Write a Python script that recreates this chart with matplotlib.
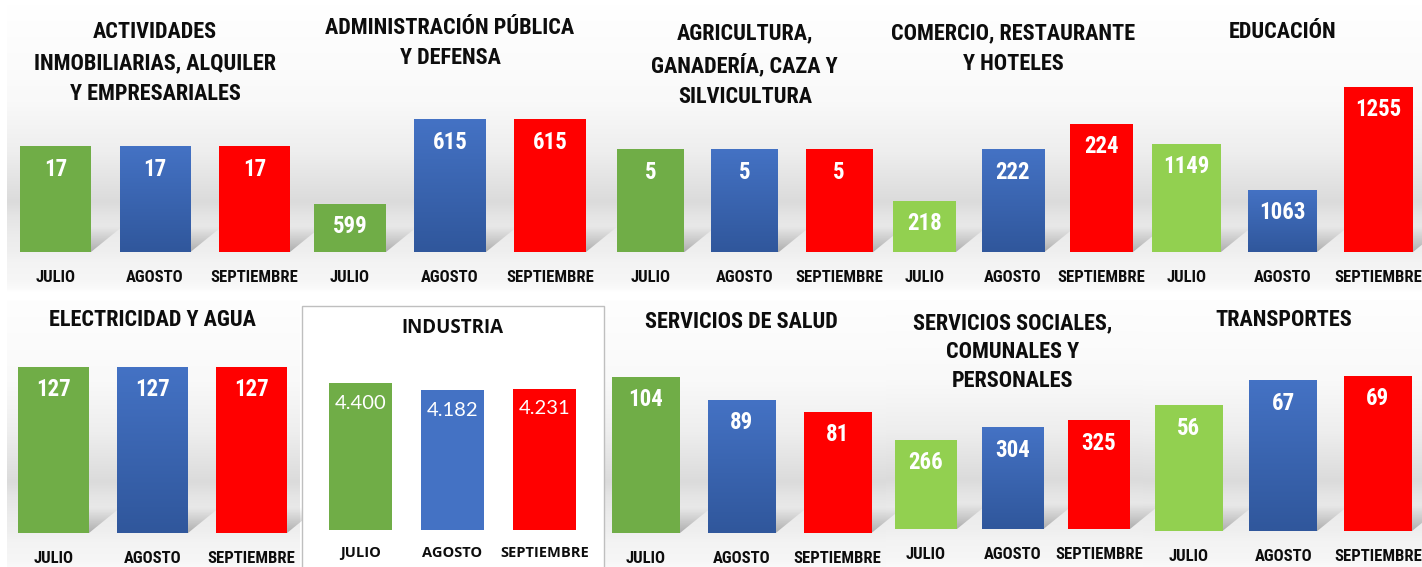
import numpy as np
import matplotlib
matplotlib.use('Agg')
import matplotlib.pyplot as plt
from matplotlib import font_manager
from matplotlib.patches import Polygon, Rectangle
from matplotlib.transforms import offset_copy

# Datos del gráfico
meses = ['JULIO', 'AGOSTO', 'SEPTIEMBRE']
sectores = ['ACTIVIDADES\nINMOBILIARIAS, ALQUILER\nY EMPRESARIALES',
            'ADMINISTRACIÓN PÚBLICA\nY DEFENSA',
            'AGRICULTURA,\nGANADERÍA, CAZA Y\nSILVICULTURA',
            'COMERCIO, RESTAURANTE\nY HOTELES',
            'EDUCACIÓN',
            'ELECTRICIDAD Y AGUA',
            'INDUSTRIA',
            'SERVICIOS DE SALUD',
            'SERVICIOS SOCIALES,\nCOMUNALES Y\nPERSONALES',
            'TRANSPORTES']
actividades = [17, 17, 17]
administracion = [599, 615, 615]
agricultura = [5, 5, 5]
comercio = [218, 222, 224]
educacion = [1149, 1063, 1255]
electricidad = [127, 127, 127]
industria = [4400, 4182, 4231]
salud = [104, 89, 81]
sociales = [266, 304, 325]
transportes = [56, 67, 69]
valores = [actividades, administracion, agricultura, comercio, educacion,
           electricidad, industria, salud, sociales, transportes]

# Colores
verde = '#70ad47'
verde_claro = '#92d050'
azul = '#4472c4'
azul_oscuro = '#30579c'
rojo = '#ff0000'

W, H = 1422, 567

# Disposición de cada panel (en pixeles):
# centro 1a barra, paso, ancho barra, base, ymin, ymax, y del título, julio verde claro
paneles = [
    (55.5, 99.5, 71, 252, 0, 38.5, 63, False),
    (350, 100, 72, 252, 589.9, 635.35, 43, False),
    (650.5, 94.3, 67, 252.5, 0, 11.65, 65, False),
    (924.5, 88.5, 63, 252, 214, 232.7, 49, True),
    (1186.5, 96, 69, 252, 947, 1394.8, 32, True),
    (53.5, 99, 71, 533, 0, 183.6, 320, False),
    (360.5, 92, 63, 530, 0, 7185, 328, False),
    (646, 95.75, 68, 533, 0, 160, 322, False),
    (926, 86.5, 62, 529, 0, 716, 352, True),
    (1188.5, 94.75, 68, 531, 0, 106.7, 320, True),
]
# Zonas con fondo degradado: x0, x1, y0, y1, base
zonas = [(7, 303, 5, 292, 252), (303, 601, 5, 292, 252), (601, 885, 5, 292, 252),
         (885, 1143, 5, 292, 252), (1143, 1422, 5, 292, 252),
         (7, 300, 300, 567, 532), (604, 886, 300, 567, 532),
         (886, 1143, 300, 567, 530), (1143, 1422, 300, 567, 531)]
ALTO_EJE = 240
INDUSTRIA = 6


def buscar_estrecha():
    # Busca una fuente condensada instalada; si no hay, usa Liberation Sans más pequeña
    for nombre, esc in [('Liberation Sans Narrow', 1.0), ('Roboto Condensed', 1.0),
                        ('Noto Sans Condensed', 1.0), ('DejaVu Sans Condensed', 0.92),
                        ('Open Sans Condensed', 1.0)]:
        try:
            font_manager.findfont(font_manager.FontProperties(family=nombre, weight='bold'),
                                  fallback_to_default=False)
            return {'fontfamily': [nombre, 'DejaVu Sans']}, esc
        except ValueError:
            pass
    for nombre in ['Noto Sans', 'DejaVu Sans', 'Roboto']:
        fp = font_manager.FontProperties(family=nombre, weight='bold', stretch='condensed')
        try:
            ruta = font_manager.findfont(fp, fallback_to_default=False)
        except ValueError:
            continue
        if 'ondensed' in ruta:
            return {'fontfamily': [nombre, 'DejaVu Sans'], 'fontstretch': 'condensed'}, 0.95
    return {'fontfamily': ['Liberation Sans', 'DejaVu Sans']}, 0.86


estrecha, esc = buscar_estrecha()
normal = ['Lato', 'DejaVu Sans']
negrita = ['Open Sans', 'DejaVu Sans']


def perfil(y, base):
    # tono de gris del fondo según la distancia a la base de las barras
    d = base - y
    dp = [-40, -36, -28, -10, 0, 15, 35, 50, 100, 150, 247]
    vp = [255, 250, 246, 243, 239, 236, 229, 219, 238, 249, 255]
    return np.interp(d, dp, vp) / 255.0


fig = plt.figure(figsize=(W / 100, H / 100), dpi=100)
fondo = fig.add_axes([0, 0, 1, 1])
fondo.axis('off')

# Fondo degradado de cada panel
for x0, x1, y0, y1, base in zonas:
    ys = np.arange(y0, y1) + 0.5
    g = perfil(ys, base)
    img = np.dstack([g, g, g]).reshape(-1, 1, 3)
    fondo.imshow(img, extent=(x0, x1, y1, y0), aspect='auto', interpolation='bilinear')

# Recuadro del panel de industria
fondo.add_patch(Rectangle((302, 306), 302, 270, facecolor='white', edgecolor='#bfbfbf', lw=1))

# Sombras en perspectiva detrás de las barras
dx, hs = 32, 26
alfa = np.linspace(0.0, 0.45, 40).reshape(-1, 1)
sombra = np.dstack([np.full_like(alfa, 0.38)] * 3 + [alfa])
for n, (c0, paso, ancho, base, lo, hi, ty, claro) in enumerate(paneles):
    if n == INDUSTRIA:
        continue
    for i in range(3):
        xl = c0 + i * paso - ancho / 2
        xr = xl + ancho
        poly = Polygon([(xl, base), (xr, base), (xr + dx, base - hs), (xl + dx, base - hs)],
                       closed=True, facecolor='none', edgecolor='none')
        fondo.add_patch(poly)
        im = fondo.imshow(sombra, extent=(xl, xr + dx, base, base - hs), aspect='auto',
                          interpolation='bilinear')
        im.set_clip_path(poly)

fondo.set_xlim(0, W)
fondo.set_ylim(H, 0)

# Paneles de barras
for n, (c0, paso, ancho, base, lo, hi, ty, claro) in enumerate(paneles):
    izq = c0 - paso / 2
    ax = fig.add_axes([izq / W, (H - base) / H, 3 * paso / W, ALTO_EJE / H])
    ax.patch.set_visible(False)
    for sp in ax.spines.values():
        sp.set_visible(False)
    datos = valores[n]
    colores = [verde_claro if claro else verde, azul, rojo]
    x = np.arange(3)
    barras = ax.bar(x, [v - lo for v in datos], width=ancho / paso, bottom=lo,
                    color=colores, zorder=2)

    # Degradado vertical de la barra azul
    if n != INDUSTRIA:
        b = barras[1]
        g = np.linspace(0, 1, 50).reshape(-1, 1)
        c1 = np.array(matplotlib.colors.to_rgb(azul))
        c2 = np.array(matplotlib.colors.to_rgb(azul_oscuro))
        img = c1 + (c2 - c1) * g[..., None]
        im = ax.imshow(img, extent=(b.get_x(), b.get_x() + b.get_width(), lo, datos[1]),
                       aspect='auto', zorder=3, interpolation='bilinear')
        im.set_clip_path(b)
    ax.set_xlim(-0.5, 2.5)
    ax.set_ylim(lo, hi)

    ax.set_yticks([])
    ax.set_xticks(x)
    if n == INDUSTRIA:
        ax.set_xticklabels(meses, fontfamily=negrita, fontweight='bold', fontsize=10.5)
        pad = 23 * 0.72
    else:
        ax.set_xticklabels(meses, fontweight='bold', fontsize=12 * esc, **estrecha)
        pad = 25.5 * 0.72
    ax.tick_params(axis='x', length=0, pad=pad, colors='#0d0d0d')
    for lab in ax.get_xticklabels():
        lab.set_va('center')

    # Etiquetas de valores dentro de las barras
    if n == INDUSTRIA:
        tr = offset_copy(ax.transData, fig=fig, y=-20, units='dots')
        for i, v in enumerate(datos):
            ax.text(i, v, f'{v:,}'.replace(',', '.'), transform=tr, ha='center', va='center',
                    color='white', fontsize=14.5, fontfamily=normal, zorder=4)
    else:
        tr = offset_copy(ax.transData, fig=fig, y=-23, units='dots')
        for i, v in enumerate(datos):
            ax.text(i, v, str(v), transform=tr, ha='center', va='center', color='white',
                    fontsize=16.5 * esc, fontweight='bold', zorder=4, **estrecha)

    # Título del panel centrado sobre la barra central
    xc = (c0 + paso) / W
    if n == INDUSTRIA:
        fig.text(xc, 1 - ty / H, sectores[n], ha='center', va='center', fontsize=13.5,
                 fontweight='bold', fontfamily=negrita, color='#0d0d0d')
    else:
        espaciado = 1.5 if base < 300 else 1.4
        fig.text(xc, 1 - ty / H, sectores[n], ha='center', va='center', fontsize=16 * esc,
                 fontweight='bold', color='#0d0d0d', linespacing=espaciado,
                 multialignment='center', **estrecha)

fig.savefig('out.png', dpi=100)
